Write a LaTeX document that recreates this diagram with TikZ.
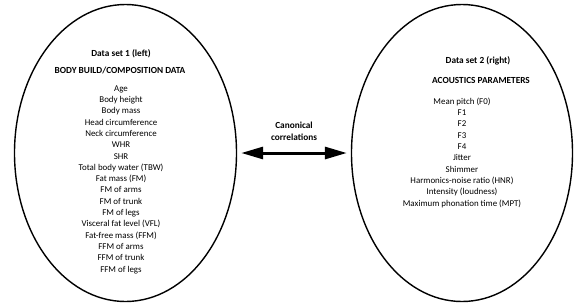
\documentclass[tikz,border=0pt]{standalone}
\usepackage{fontspec}
\setmainfont{Carlito}
\usetikzlibrary{shapes.geometric,arrows.meta}
\begin{document}
\begin{tikzpicture}[x=1pt,y=-1pt,
  oval/.style={ellipse,draw=black,line width=1.4pt,inner sep=0pt},
  listtext/.style={align=center,inner sep=0pt,anchor=base,font=\fontsize{8.9}{11.3}\selectfont},
  headtext/.style={align=center,inner sep=0pt,anchor=base,font=\fontsize{9.3}{12}\selectfont\bfseries},
  biarrow/.style={{Triangle[length=22pt,width=12pt]}-{Triangle[length=22pt,width=12pt]},line width=3pt,shorten <=4pt,shorten >=4pt}]
\useasboundingbox (0,0) rectangle (586,306);
\node[oval,minimum width=222pt,minimum height=297pt] (L) at (125.5,153) {};
\node[oval,minimum width=221pt,minimum height=297pt] (R) at (462,153) {};
\node[headtext] (lt) at (121,56) {Data set 1 (left)};
\node[headtext] (lh) at (120,73) {BODY BUILD/COMPOSITION DATA};
\node[listtext] (ll) at (121,272) {Age\\Body height\\Body mass\\Head circumference\\Neck circumference\\WHR\\SHR\\Total body water (TBW)\\Fat mass (FM)\\FM of arms\\FM of trunk\\FM of legs\\Visceral fat level (VFL)\\Fat-free mass (FFM)\\FFM of arms\\FFM of trunk\\FFM of legs};
\node[headtext] (rt) at (478,63) {Data set 2 (right)};
\node[headtext] (rh) at (481,83) {ACOUSTICS PARAMETERS};
\node[listtext] (rl) at (462,206) {Mean pitch (F0)\\F1\\F2\\F3\\F4\\Jitter\\Shimmer\\Harmonics-noise ratio (HNR)\\Intensity (loudness)\\Maximum phonation time (MPT)};
\node[headtext] (cc) at (294,140) {Canonical\\correlations};
\draw[biarrow] (L.east) -- (R.west);
\end{tikzpicture}
\end{document}
